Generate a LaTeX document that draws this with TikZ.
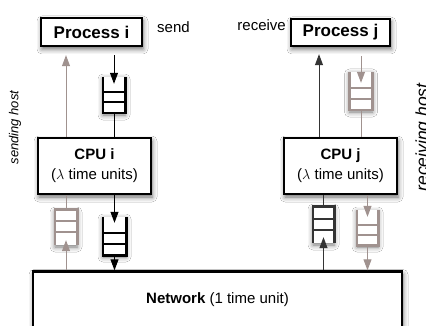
\documentclass[tikz,border=0pt]{standalone}
\usepackage{fontspec}
\setmainfont{Liberation Sans}
\usetikzlibrary{arrows.meta,calc,shadows.blur}

\definecolor{taupe}{RGB}{160,146,143}
\definecolor{darkq}{RGB}{52,52,52}

\tikzset{
  soft/.style={blur shadow={shadow xshift=1pt, shadow yshift=-3pt,
      shadow blur radius=5pt, shadow opacity=60}},
  box/.style={draw=black, line width=2.4pt, fill=white, inner sep=0pt,
      align=center, soft},
  qbox/.style={fill=white, inner sep=0pt,
      blur shadow={shadow xshift=0pt, shadow yshift=-2pt,
      shadow blur radius=5pt, shadow opacity=55}},
  qside/.style={line width=2.6pt},
  qrung/.style={line width=2pt},
  link/.style={line width=1pt, -{Triangle[width=8pt,length=11pt]}},
  plain/.style={line width=1pt},
  lbl/.style={font=\fontsize{15}{18}\selectfont, inner sep=0pt},
}

% queue with an open top
\newcommand\queueopentop[2]{%
  \draw[qside,#2] (#1.north west) -- (#1.south west) -- (#1.south east) -- (#1.north east);
  \draw[qrung,#2] ($(#1.south west)!.3!(#1.north west)$) -- ($(#1.south east)!.3!(#1.north east)$);
  \draw[qrung,#2] ($(#1.south west)!.58!(#1.north west)$) -- ($(#1.south east)!.58!(#1.north east)$);
}
% queue with an open bottom
\newcommand\queueopenbottom[2]{%
  \draw[qside,#2] (#1.south west) -- (#1.north west) -- (#1.north east) -- (#1.south east);
  \draw[qrung,#2] ($(#1.north west)!.33!(#1.south west)$) -- ($(#1.north east)!.33!(#1.south east)$);
  \draw[qrung,#2] ($(#1.north west)!.64!(#1.south west)$) -- ($(#1.north east)!.64!(#1.south east)$);
}

\begin{document}
\begin{tikzpicture}[x=1pt,y=-1pt]
\useasboundingbox (0,0) rectangle (426,326);
\fill[white] (0,0) rectangle (426,326);

% hosts and network
\node[box, minimum width=101pt, minimum height=28pt,
      font=\fontsize{17}{20}\selectfont\bfseries] (pi) at (91.5,32) {Process i};
\node[box, minimum width=99pt, minimum height=27pt,
      font=\fontsize{17}{20}\selectfont\bfseries] (pj) at (340.5,32.5) {Process j};
\node[box, minimum width=113pt, minimum height=56pt,
      font=\fontsize{15}{20}\selectfont] (cpui) at (94.5,166)
      {\textbf{CPU i}\\($\lambda$ time units)};
\node[box, minimum width=113pt, minimum height=56pt,
      font=\fontsize{15}{20}\selectfont] (cpuj) at (340.5,166)
      {\textbf{CPU j}\\($\lambda$ time units)};
\node[box, minimum width=369pt, minimum height=57pt,
      font=\fontsize{15}{18}\selectfont] (net) at (217.5,300)
      {\textbf{Network} (1 time unit)};

% labels
\node[lbl, anchor=west] (send) at (157,27) {send};
\node[lbl, anchor=east] (recv) at (286,25) {receive};
\node[font=\fontsize{13}{15}\selectfont\itshape, rotate=90, inner sep=0pt]
      (sh) at (15,127.5) {sending host};
\node[font=\fontsize{17.5}{21}\selectfont\itshape, rotate=90, inner sep=0pt,
      anchor=base] (rh) at (428,137.5) {receiving host};

% queues
\node[qbox, minimum width=22pt, minimum height=36pt] (qa) at (114,95) {};
\node[qbox, minimum width=22pt, minimum height=35pt] (qb) at (66,227.5) {};
\node[qbox, minimum width=23pt, minimum height=38pt] (qc) at (114.5,236) {};
\node[qbox, minimum width=23pt, minimum height=38pt] (qd) at (361,91) {};
\node[qbox, minimum width=21pt, minimum height=36pt] (qe) at (323.5,225) {};
\node[qbox, minimum width=21pt, minimum height=35pt] (qf) at (367.5,227.5) {};
\coordinate (ju) at (319,100);

\queueopentop{qa}{black}
\queueopenbottom{qb}{taupe}
\queueopentop{qc}{black}
\queueopentop{qd}{taupe}
\queueopenbottom{qe}{darkq}
\queueopentop{qf}{taupe}

% sending host
\draw[link, shorten <=8pt, shorten >=-7pt] (pi.south -| qa) -- (qa.north);
\draw[plain] (qa.south) -- (cpui.north -| qa);
\draw[link, taupe, shorten >=8pt] (cpui.north -| qb) -- (pi.south -| qb);
\draw[plain, taupe] (cpui.south -| qb) -- (qb.north);
\draw[link, taupe, shorten >=-5pt] (net.north -| qb) -- (qb.south);
\draw[link, shorten >=-6pt] (cpui.south -| qc) -- (qc.north);
\draw[link] (qc.south) -- (net.north -| qc);

% receiving host
\draw[link, darkq, shorten >=-6pt] (net.north -| qe) -- (qe.south);
\draw[plain, darkq] (qe.north) -- (cpuj.south -| qe);
\draw[link, darkq, shorten >=7pt] (cpuj.north -| ju) -- (pj.south -| ju);
\draw[link, taupe, shorten <=9pt, shorten >=-11pt] (pj.south -| qd) -- (qd.north);
\draw[plain, taupe] (qd.south) -- (cpuj.north -| qd);
\draw[link, taupe, shorten >=-7pt] (cpuj.south -| qf) -- (qf.north);
\draw[link, taupe] (qf.south) -- (net.north -| qf);
\end{tikzpicture}
\end{document}
